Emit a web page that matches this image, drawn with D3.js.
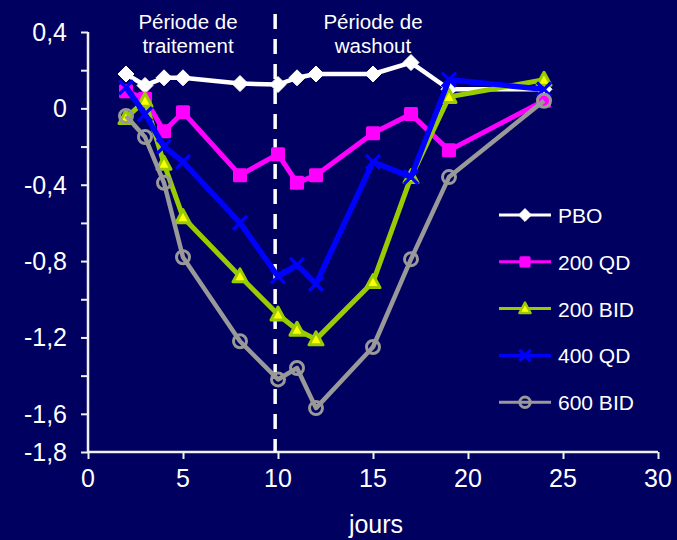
<!DOCTYPE html>
<html><head><meta charset="utf-8">
<script src="https://cdn.jsdelivr.net/npm/d3@7"></script>
<style>html,body{margin:0;padding:0;background:#000060;}svg{display:block;}</style>
</head><body>
<script>
const days = [2,3,4,5,8,10,11,12,15,17,19,24];
const seriesNames = ["PBO","200 QD","200 BID","400 QD","600 BID"];
const pbo    = [0.18,0.12,0.16,0.16,0.13,0.125,0.16,0.18,0.18,0.24,0.10,0.10];
const qd200  = [0.09,0.05,-0.12,-0.02,-0.35,-0.24,-0.39,-0.35,-0.13,-0.03,-0.22,0.04];
const bid200 = [-0.05,0.04,-0.29,-0.57,-0.88,-1.08,-1.16,-1.21,-0.91,-0.36,0.06,0.15];
const qd400  = [0.11,-0.03,-0.2,-0.28,-0.6,-0.88,-0.82,-0.92,-0.28,-0.36,0.15,0.1];
const bid600 = [-0.04,-0.15,-0.39,-0.78,-1.22,-1.42,-1.36,-1.57,-1.25,-0.79,-0.36,0.04];
const yTicks = [0.4,0.2,0,-0.2,-0.4,-0.6,-0.8,-1.0,-1.2,-1.4,-1.6,-1.8];
const yLabels = ["0,4","0","-0,4","-0,8","-1,2","-1,6","-1,8"];
const yLabelVals = [0.4,0,-0.4,-0.8,-1.2,-1.6,-1.8];
const xTicks = [0,5,10,15,20,25,30];
const periodSplit = 9.85;
const periodLabels = [["Période de","traitement"],["Période de","washout"]];
const xTitle = "jours";

const W=677,H=540;
const svg=d3.select("body").append("svg").attr("width",W).attr("height",H);
svg.append("rect").attr("width",W).attr("height",H).attr("fill","#000060");
const x=d3.scaleLinear().domain([0,30]).range([88,658]);
const y=d3.scaleLinear().domain([-1.8,0.4]).range([452,32]);
const font="Liberation Sans, Arial, sans-serif";
const axisCol="#f0f0f0";

// axes
const gy=svg.append("g").attr("transform",`translate(${x(0)},0)`)
  .call(d3.axisLeft(y).tickValues(yTicks).tickSize(7).tickFormat(""));
gy.select(".domain").attr("stroke",axisCol).attr("stroke-width",2.5).attr("d",`M0,${y(0.4)}V${y(-1.8)}`);
gy.selectAll(".tick line").attr("stroke",axisCol).attr("stroke-width",2);
const gx=svg.append("g").attr("transform",`translate(0,${y(-1.8)})`)
  .call(d3.axisBottom(x).tickValues(xTicks).tickSize(7).tickFormat(""));
gx.select(".domain").attr("stroke",axisCol).attr("stroke-width",2.5).attr("d",`M${x(0)},0H${x(30)}`);
gx.selectAll(".tick line").attr("stroke",axisCol).attr("stroke-width",2);

svg.append("g").selectAll("text").data(yLabelVals).join("text")
  .attr("x",67).attr("y",d=>y(d)+9).attr("text-anchor","end")
  .attr("font-family",font).attr("font-size",25).attr("fill","#fff")
  .text((d,i)=>yLabels[i]);
svg.append("g").selectAll("text").data(xTicks).join("text")
  .attr("x",d=>x(d)).attr("y",487).attr("text-anchor","middle")
  .attr("font-family",font).attr("font-size",25).attr("fill","#fff").text(d=>d);
svg.append("text").attr("x",376).attr("y",533).attr("text-anchor","middle")
  .attr("font-family",font).attr("font-size",25).attr("fill","#fff").text(xTitle);

// period separator
svg.append("line").attr("x1",x(periodSplit)).attr("x2",x(periodSplit)).attr("y1",14).attr("y2",y(-1.8))
  .attr("stroke","#fff").attr("stroke-width",3.5).attr("stroke-dasharray","15,10");
[[188,periodLabels[0]],[373,periodLabels[1]]].forEach(([cx,lines])=>{
  lines.forEach((t,i)=>svg.append("text").attr("x",cx).attr("y",29+i*24).attr("text-anchor","middle")
    .attr("font-family",font).attr("font-size",20.5).attr("fill","#fff").text(t));
});

// markers
function marker(g,type,s){
  if(type==="diamond") g.append("path").attr("d",`M0,${-8*s}L${8*s},0L0,${8*s}L${-8*s},0Z`).attr("fill","#fff").attr("stroke","#fff").attr("stroke-width",1).attr("stroke-linejoin","round");
  if(type==="square") g.append("rect").attr("x",-7*s).attr("y",-7*s).attr("width",14*s).attr("height",14*s).attr("rx",1.5).attr("fill","#ff00ff");
  if(type==="triangle") g.append("path").attr("d",`M0,${-7.5*s}L${7*s},${5.5*s}L${-7*s},${5.5*s}Z`).attr("fill","#ffff00").attr("stroke","#99cc00").attr("stroke-width",3*s).attr("stroke-linejoin","round");
  if(type==="cross") g.append("path").attr("d",`M${-7*s},${-7*s}L${7*s},${7*s}M${7*s},${-7*s}L${-7*s},${7*s}`).attr("stroke","#0000ff").attr("stroke-width",3.2);
  if(type==="circle") g.append("circle").attr("r",6.5*s).attr("fill","none").attr("stroke","#999999").attr("stroke-width",3);
}
const series=[
  {name:seriesNames[0],vals:pbo,color:"#ffffff",m:"diamond",w:4.5},
  {name:seriesNames[1],vals:qd200,color:"#ff00ff",m:"square",w:5},
  {name:seriesNames[2],vals:bid200,color:"#99cc00",m:"triangle",w:5},
  {name:seriesNames[3],vals:qd400,color:"#0000ff",m:"cross",w:5.5},
  {name:seriesNames[4],vals:bid600,color:"#999999",m:"circle",w:4.5}
];
const line=d3.line().x(d=>x(d[0])).y(d=>y(d[1]));
series.forEach(s=>{
  const pts=days.map((d,i)=>[d,s.vals[i]]);
  svg.append("path").attr("d",line(pts)).attr("fill","none").attr("stroke",s.color).attr("stroke-width",s.w).attr("stroke-linejoin","round");
  pts.forEach(p=>{const g=svg.append("g").attr("transform",`translate(${x(p[0])},${y(p[1])})`);marker(g,s.m,1);});
});

// legend
series.forEach((s,i)=>{
  const ly=215+i*46.8;
  svg.append("line").attr("x1",499).attr("x2",551).attr("y1",ly).attr("y2",ly).attr("stroke",s.color).attr("stroke-width",3);
  const g=svg.append("g").attr("transform",`translate(525,${ly})`);marker(g,s.m,0.8);
  svg.append("text").attr("x",558).attr("y",ly+8).attr("font-family",font).attr("font-size",21).attr("fill","#fff").text(s.name);
});
</script>
</body></html>
